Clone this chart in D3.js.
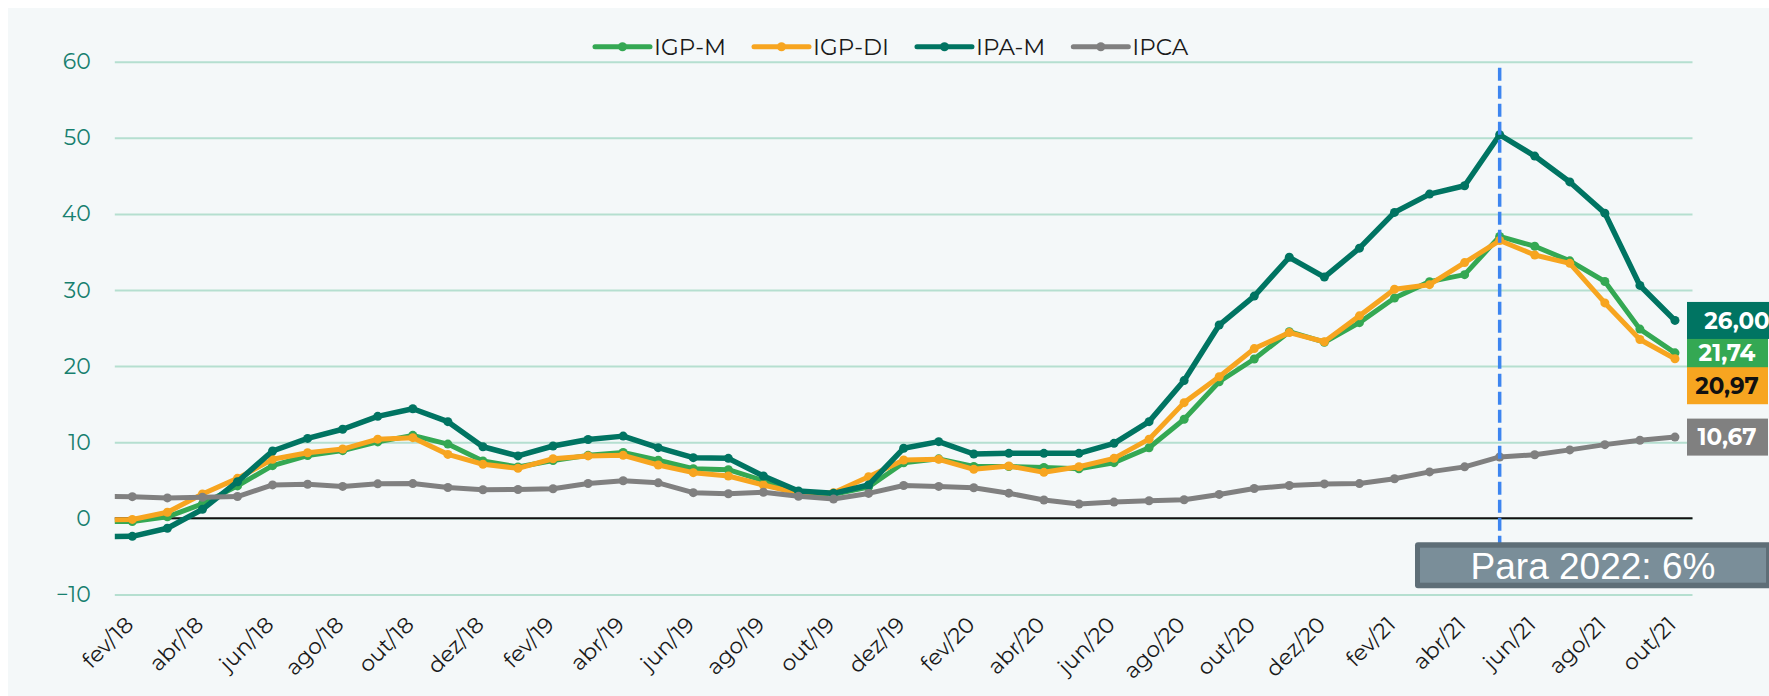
<!DOCTYPE html>
<html>
<head>
<meta charset="utf-8">
<script src="https://cdn.jsdelivr.net/npm/d3@7"></script>
<style>
  body { margin: 0; background: #ffffff; }
  svg { display: block; font-family: Montserrat, Inter, sans-serif; }
</style>
</head>
<body>
<script>
// Months shown on the axis (fev/18 .. out/21)
var months = ['fev/18','mar/18','abr/18','mai/18','jun/18','jul/18','ago/18','set/18','out/18','nov/18','dez/18',
  'jan/19','fev/19','mar/19','abr/19','mai/19','jun/19','jul/19','ago/19','set/19','out/19','nov/19','dez/19',
  'jan/20','fev/20','mar/20','abr/20','mai/20','jun/20','jul/20','ago/20','set/20','out/20','nov/20','dez/20',
  'jan/21','fev/21','mar/21','abr/21','mai/21','jun/21','jul/21','ago/21','set/21','out/21'];

// 12-month accumulated values (%)
var igpm = [-0.42, 0.20, 1.89, 4.26, 6.92, 8.24, 8.89, 10.04, 10.9, 9.75, 7.54,
  6.74, 7.60, 8.27, 8.64, 7.64, 6.51, 6.39, 4.95, 3.37, 3.15, 4.12, 7.30,
  7.81, 6.82, 6.81, 6.68, 6.51, 7.31, 9.27, 13.02, 17.94, 20.93, 24.52, 23.14,
  25.71, 28.94, 31.10, 32.02, 37.04, 35.75, 33.83, 31.12, 24.86, 21.74];
var igpdi = [-0.15, 0.79, 3.19, 5.25, 7.75, 8.62, 9.1, 10.4, 10.6, 8.4, 7.1,
  6.57, 7.83, 8.2, 8.28, 7.0, 6.0, 5.56, 4.38, 3.28, 3.37, 5.47, 7.66,
  7.75, 6.44, 6.87, 6.04, 6.78, 7.88, 10.4, 15.2, 18.6, 22.3, 24.4, 23.2,
  26.6, 30.1, 30.7, 33.6, 36.5, 34.6, 33.5, 28.3, 23.5, 20.97];
var ipam = [-2.37, -1.31, 1.18, 4.81, 8.84, 10.5, 11.7, 13.4, 14.4, 12.7, 9.4,
  8.2, 9.5, 10.35, 10.8, 9.28, 7.97, 7.88, 5.56, 3.59, 3.28, 4.38, 9.2,
  10.07, 8.45, 8.54, 8.54, 8.54, 9.85, 12.7, 18.1, 25.4, 29.2, 34.3, 31.7,
  35.5, 40.2, 42.6, 43.7, 50.4, 47.6, 44.2, 40.1, 30.6, 26.00];
var ipca = [2.84, 2.68, 2.76, 2.86, 4.39, 4.48, 4.19, 4.53, 4.56, 4.05, 3.75,
  3.78, 3.89, 4.58, 4.94, 4.66, 3.37, 3.22, 3.43, 2.89, 2.54, 3.27, 4.31,
  4.19, 4.01, 3.30, 2.40, 1.88, 2.13, 2.31, 2.44, 3.14, 3.92, 4.31, 4.52,
  4.56, 5.20, 6.10, 6.76, 8.06, 8.35, 8.99, 9.68, 10.25, 10.67];
// jan/18 values, only the start of the line shows at the left edge
var jan18 = [-0.41, -0.2, -2.4, 2.86];

var seriesNames = ['IGP-M', 'IGP-DI', 'IPA-M', 'IPCA'];
var seriesColors = ['#34a853', '#f7a520', '#007462', '#808080'];
var yTicks = [-10, 0, 10, 20, 30, 40, 50, 60];
var markMonth = 'mai/21';
var noteText = 'Para 2022: 6%';

var series = [igpm, igpdi, ipam, ipca].map(function(vals, k) {
  return { name: seriesNames[k], color: seriesColors[k], pre: jan18[k], values: vals };
});

var width = 1769, height = 696;
var left = 114.8, right = 1692.5;

var svg = d3.select('body').append('svg')
  .attr('width', width)
  .attr('height', height);

svg.append('rect')
  .attr('x', 8).attr('y', 8)
  .attr('width', width - 8).attr('height', height - 8)
  .attr('fill', '#f4f8f9');

var x = d3.scaleLinear().domain([-0.5, months.length - 0.5]).range([left, right]);
var y = d3.scaleLinear().domain([-10, 60]).range([594.4, 61.7]);

// y axis + gridlines
var yAxis = svg.append('g')
  .attr('transform', 'translate(' + left + ',0)')
  .call(d3.axisLeft(y).tickValues(yTicks).tickSize(-(right - left)).tickPadding(24));
yAxis.select('.domain').remove();
yAxis.selectAll('.tick line').attr('stroke', '#b5dfd0').attr('stroke-width', 2);
yAxis.selectAll('.tick text')
  .attr('fill', '#17806f')
  .attr('font-size', 22)
  .attr('font-family', 'Montserrat, Inter, sans-serif');

// zero line
svg.append('line')
  .attr('x1', left).attr('x2', right)
  .attr('y1', y(0)).attr('y2', y(0))
  .attr('stroke', '#111').attr('stroke-width', 2);

// x axis labels
var xAxis = svg.append('g')
  .attr('transform', 'translate(0,626)')
  .call(d3.axisBottom(x).tickValues(d3.range(0, months.length, 2)).tickSize(0).tickFormat(function(i) { return months[i]; }));
xAxis.select('.domain').remove();
xAxis.selectAll('.tick text')
  .attr('y', 0).attr('dy', 0)
  .attr('text-anchor', 'end')
  .attr('transform', 'translate(2,0) rotate(-45)')
  .attr('fill', '#1a1a1a')
  .attr('font-size', 22)
  .attr('font-family', 'Montserrat, Inter, sans-serif');

// clip for lines
svg.append('clipPath').attr('id', 'plotClip')
  .append('rect').attr('x', left).attr('y', 0).attr('width', right - left).attr('height', height);

var line = d3.line()
  .x(function(d) { return x(d.i); })
  .y(function(d) { return y(d.v); });

var lineG = svg.append('g').attr('clip-path', 'url(#plotClip)');
series.forEach(function(s) {
  var pts = [{ i: -1, v: s.pre }].concat(s.values.map(function(v, i) { return { i: i, v: v }; }));
  lineG.append('path')
    .datum(pts)
    .attr('d', line)
    .attr('fill', 'none')
    .attr('stroke', s.color)
    .attr('stroke-width', s.name == 'IPA-M' ? 5.5 : 5)
    .attr('stroke-linejoin', 'round');
  lineG.selectAll('circle.d' + s.name)
    .data(s.values)
    .enter().append('circle')
    .attr('cx', function(d, i) { return x(i); })
    .attr('cy', function(d) { return y(d); })
    .attr('r', 4.5)
    .attr('fill', s.color);
});

// dashed marker line
var mi = months.indexOf(markMonth);
svg.append('line')
  .attr('x1', x(mi)).attr('x2', x(mi))
  .attr('y1', y(60) + 6).attr('y2', 543)
  .attr('stroke', '#3d85f0')
  .attr('stroke-width', 3.5)
  .attr('stroke-dasharray', '13,5');

// note box
svg.append('rect')
  .attr('x', 1415).attr('y', 542.3)
  .attr('width', 370).attr('height', 46)
  .attr('rx', 3)
  .attr('fill', '#5e6e77');
svg.append('rect')
  .attr('x', 1420).attr('y', 547.7)
  .attr('width', 346).attr('height', 35)
  .attr('fill', '#7a8e99');
svg.append('text')
  .attr('x', 1593).attr('y', 579)
  .attr('text-anchor', 'middle')
  .attr('font-family', '"Liberation Sans", Arial, sans-serif')
  .attr('font-size', 37)
  .attr('fill', '#ffffff')
  .text(noteText);

// end value labels: green first so the others sit over it
var labelOrder = [0, 2, 1, 3];
var labelFill = ['#ffffff', '#111111', '#ffffff', '#ffffff'];
var labelShift = [0, 27, 0, 0];
labelOrder.forEach(function(k) {
  var s = series[k];
  var v = s.values[s.values.length - 1];
  var cy = y(v) + labelShift[k];
  var wide = s.name == 'IPA-M';
  svg.append('rect')
    .attr('x', 1687).attr('y', cy - 18.5)
    .attr('width', wide ? 100 : 81).attr('height', 37)
    .attr('fill', s.color);
  svg.append('text')
    .attr('x', wide ? 1737 : 1727).attr('y', cy)
    .attr('dy', '0.36em')
    .attr('text-anchor', 'middle')
    .attr('font-size', 23)
    .attr('font-weight', 700)
    .attr('fill', labelFill[k])
    .text(d3.format('.2f')(v).replace('.', ','));
});

// legend
var legend = svg.append('g');
var lx = 595;
series.forEach(function(s) {
  var g = legend.append('g').attr('transform', 'translate(' + lx + ',46.7)');
  g.append('line').attr('x1', 0).attr('x2', 55)
    .attr('stroke', s.color).attr('stroke-width', 5).attr('stroke-linecap', 'round');
  g.append('circle').attr('cx', 27.5).attr('r', 4.5).attr('fill', s.color);
  var t = g.append('text').attr('x', 59).attr('y', 0).attr('dy', '0.36em')
    .attr('font-size', 23).attr('fill', '#1a1a1a').text(s.name);
  lx += 59 + t.node().getComputedTextLength() + 28;
});
</script>
</body>
</html>
